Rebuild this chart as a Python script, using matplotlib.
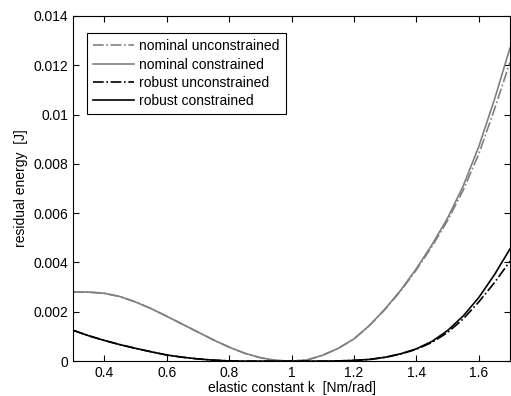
import matplotlib
matplotlib.use("Agg")
import matplotlib.pyplot as plt
from matplotlib.ticker import FuncFormatter

plt.rcParams['font.family'] = ['Liberation Sans', 'DejaVu Sans']
plt.rcParams['font.size'] = 10

# elastic constant k [Nm/rad]
k = [0.30, 0.35, 0.40, 0.45, 0.50, 0.55, 0.60, 0.65, 0.70, 0.75,
     0.80, 0.85, 0.90, 0.95, 1.00, 1.05, 1.10, 1.15, 1.20, 1.25,
     1.30, 1.35, 1.40, 1.45, 1.50, 1.55, 1.60, 1.65, 1.70]

nominal_constrained = [0.00280, 0.00280, 0.00275, 0.00262, 0.00240, 0.00213, 0.00182, 0.00150,
                       0.00118, 0.00086, 0.00057, 0.00032, 0.00014, 0.00003, 0.00000, 0.00005,
                       0.00024, 0.00052, 0.00090, 0.00145, 0.00212, 0.00288, 0.00375, 0.00472,
                       0.00580, 0.00710, 0.00870, 0.01060, 0.01270]
nominal_unconstrained = [0.00280, 0.00280, 0.00275, 0.00262, 0.00240, 0.00213, 0.00182, 0.00150,
                         0.00118, 0.00086, 0.00057, 0.00032, 0.00014, 0.00003, 0.00000, 0.00005,
                         0.00024, 0.00052, 0.00090, 0.00145, 0.00210, 0.00285, 0.00370, 0.00465,
                         0.00570, 0.00693, 0.00840, 0.01020, 0.01212]
robust_constrained = [0.00125, 0.00103, 0.00084, 0.00067, 0.00052, 0.00038, 0.00025, 0.00016,
                      0.00009, 0.00004, 0.00001, 0.00000, 0.00000, 0.00000, 0.00000, 0.00000,
                      0.00000, 0.00001, 0.00003, 0.00007, 0.00016, 0.00030, 0.00050, 0.00080,
                      0.00124, 0.00183, 0.00258, 0.00350, 0.00455]
robust_unconstrained = [0.00125, 0.00103, 0.00084, 0.00067, 0.00052, 0.00038, 0.00025, 0.00016,
                        0.00009, 0.00004, 0.00001, 0.00000, 0.00000, 0.00000, 0.00000, 0.00000,
                        0.00000, 0.00001, 0.00003, 0.00007, 0.00015, 0.00029, 0.00048, 0.00076,
                        0.00116, 0.00171, 0.00240, 0.00318, 0.00405]

gray = '#808080'

fig = plt.figure(figsize=(5.11, 3.96), dpi=100)
ax = fig.add_axes([0.143, 0.088, 0.855, 0.872])

ax.plot(k, nominal_unconstrained, '-.', color=gray, lw=1.2, label='nominal unconstrained')
ax.plot(k, nominal_constrained, '-', color=gray, lw=1.2, label='nominal constrained')
ax.plot(k, robust_unconstrained, '-.', color='black', lw=1.2, label='robust unconstrained')
ax.plot(k, robust_constrained, '-', color='black', lw=1.2, label='robust constrained')

ax.set_xlim(0.3, 1.7)
ax.set_ylim(0, 0.014)
ax.set_xticks([0.4, 0.6, 0.8, 1.0, 1.2, 1.4, 1.6])
ax.set_yticks([0, 0.002, 0.004, 0.006, 0.008, 0.01, 0.012, 0.014])
ax.xaxis.set_major_formatter(FuncFormatter(lambda v, p: '%g' % round(v, 4)))
ax.yaxis.set_major_formatter(FuncFormatter(lambda v, p: '%g' % round(v, 5)))
ax.tick_params(direction='in', top=True, right=True, length=4, width=0.8, labelsize=10)
for s in ax.spines.values():
    s.set_linewidth(0.8)

ax.set_xlabel('elastic constant k  [Nm/rad]', labelpad=1)
ax.set_ylabel('residual energy  [J]', labelpad=4)

leg = ax.legend(loc='upper left', bbox_to_anchor=(0.032, 0.95), fancybox=False,
                edgecolor='black', framealpha=1, handlelength=2.9, labelspacing=0.3,
                borderpad=0.45, handletextpad=0.4, borderaxespad=0)
leg.get_frame().set_linewidth(0.8)

fig.savefig('out.png', dpi=100)
